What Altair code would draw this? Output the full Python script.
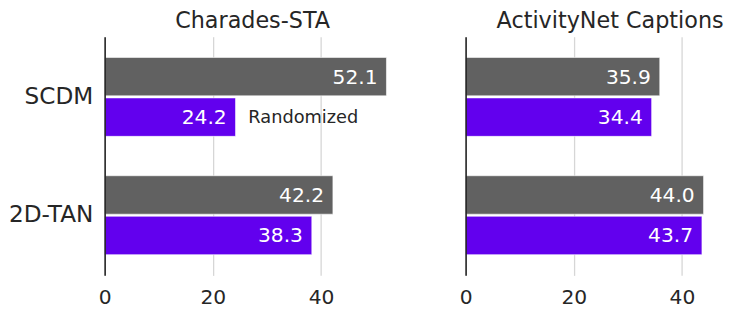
import altair as alt
import pandas as pd

methods = ["SCDM", "2D-TAN"]
series = ["Original", "Randomized"]
datasets = ["Charades-STA", "ActivityNet Captions"]
charades_original = [52.1, 42.2]
charades_randomized = [24.2, 38.3]
anet_original = [35.9, 44.0]
anet_randomized = [34.4, 43.7]
annotation_text = ["Randomized"]
annotation_method = ["SCDM"]
annotation_value = [24.2]
x_ticks = [0, 20, 40]

GRAY = "#616161"
PURPLE = "#6200ee"
DARK = "#262626"
FONT = "DejaVu Sans"


def frame(orig, rand):
    rows = []
    for m, o, r in zip(methods, orig, rand):
        rows.append({"method": m, "series": series[0], "value": o})
        rows.append({"method": m, "series": series[1], "value": r})
    return pd.DataFrame(rows)


def panel(df, title, xmax, width, show_labels, title_dx, annotate):
    x = alt.X("value:Q", scale=alt.Scale(domain=[0, xmax], nice=False),
              axis=alt.Axis(values=x_ticks, title=None, grid=True, ticks=False,
                            domain=False, labelFontSize=20.5, labelPadding=13,
                            labelFlush=False, labelColor=DARK, gridColor="#d6d6d6",
                            gridWidth=1.3, labelFont=FONT))
    y = alt.Y("method:N", sort=methods,
              scale=alt.Scale(paddingInner=0.333, paddingOuter=0.175),
              axis=alt.Axis(title=None, ticks=False, domain=True, domainColor=DARK,
                            domainWidth=1.6, labels=show_labels, labelFontSize=23.5,
                            labelPadding=12, labelColor=DARK, labelFont=FONT,
                            grid=False, zindex=1))
    yoff = alt.YOffset("series:N", sort=series,
                       scale=alt.Scale(paddingInner=0.05, paddingOuter=0))
    base = alt.Chart(df).encode(x=x, y=y, yOffset=yoff)
    bars = base.mark_bar(stroke="white", strokeWidth=1, strokeOpacity=0.6).encode(
        color=alt.Color("series:N", sort=series,
                        scale=alt.Scale(domain=series, range=[GRAY, PURPLE]),
                        legend=None))
    labels = base.mark_text(align="right", baseline="middle", dx=-9, dy=1,
                            color="white", fontSize=20.5, font=FONT).encode(
        text=alt.Text("value:Q", format=".1f"))
    layers = [bars, labels]
    if annotate:
        ann = pd.DataFrame({"method": annotation_method, "series": [series[1]],
                            "value": annotation_value, "label": annotation_text})
        layers.append(alt.Chart(ann).mark_text(align="left", baseline="middle",
                                               dx=13, dy=1, color=DARK,
                                               fontSize=18, font=FONT).encode(
            x=alt.X("value:Q"), y=alt.Y("method:N", sort=methods),
            yOffset=alt.YOffset("series:N", sort=series), text="label:N"))
    return alt.layer(*layers).properties(
        width=width, height=242,
        title=alt.TitleParams(title, fontSize=22.6, fontWeight="normal", color=DARK,
                              font=FONT, offset=4, dx=title_dx))


p1 = panel(frame(charades_original, charades_randomized), datasets[0], 54.7, 300,
           True, 0, True)
p2 = panel(frame(anet_original, anet_randomized), datasets[1], 46.5, 255,
           False, 19, False)

chart = alt.hconcat(p1, p2, spacing=59).properties(
    padding={"left": 0, "top": 0, "right": 0, "bottom": 0}
).configure(font=FONT).configure_view(stroke=None)

chart.save("out.html", embed_options={"renderer": "svg", "actions": False})
